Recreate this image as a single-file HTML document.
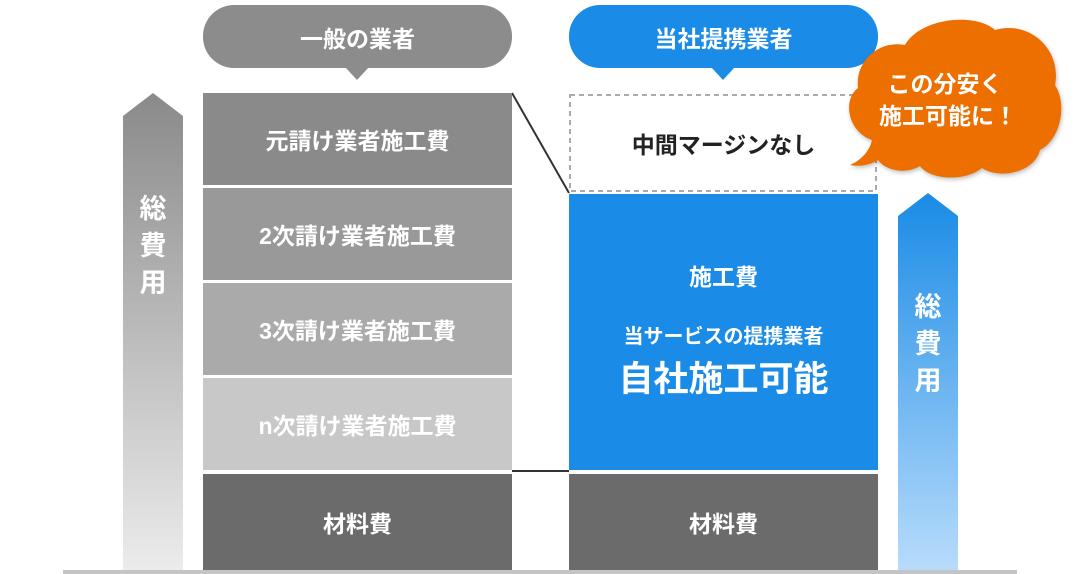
<!DOCTYPE html><html><head><meta charset="utf-8"><style>
body{margin:0;width:1080px;height:574px;background:#fff;position:relative;overflow:hidden;font-family:"Liberation Sans","Noto Sans CJK JP",sans-serif;font-weight:bold}
.b{position:absolute;display:flex;align-items:center;justify-content:center;color:#fff;font-size:23px}
.v{position:absolute;color:#fff;font-size:27px;width:60px;text-align:center;line-height:37px}
</style></head><body>
<svg width="1080" height="574" style="position:absolute;left:0;top:0">
<defs>
<linearGradient id="g1" x1="0" y1="0" x2="0" y2="1"><stop offset="0" stop-color="#8a8a8a"/><stop offset="1" stop-color="#ececec"/></linearGradient>
<linearGradient id="g2" x1="0" y1="0" x2="0" y2="1"><stop offset="0" stop-color="#1a8be6"/><stop offset="1" stop-color="#b8dcfb"/></linearGradient>
</defs>
<polygon points="123,116 153,93 183,116 183,572 123,572" fill="url(#g1)"/>
<polygon points="898,216 928,193 958,216 958,572 898,572" fill="url(#g2)"/>
<rect x="203" y="5" width="309" height="63" rx="31" fill="#8c8c8c"/>
<polygon points="345,67 369,67 357,80" fill="#8c8c8c"/>
<rect x="569" y="5" width="309" height="63" rx="31" fill="#1a8be6"/>
<polygon points="711,67 735,67 723,80" fill="#1a8be6"/>
<rect x="570" y="95" width="306" height="96" fill="none" stroke="#aaa" stroke-width="2" stroke-dasharray="5,4"/>
<line x1="512" y1="93" x2="569" y2="193" stroke="#333" stroke-width="2"/>
<line x1="512" y1="471" x2="569" y2="471" stroke="#333" stroke-width="2"/>
<rect x="63" y="570" width="954" height="4" fill="#c4c4c4"/>
<path d="M850,165 C862,160 870,150 872,140 C848,132 842,100 858,88 C855,60 880,40 905,45 C920,18 975,12 995,30 C1030,20 1062,50 1055,85 C1068,105 1060,140 1040,150 C1035,172 1000,180 982,168 C965,182 930,180 920,166 C905,175 885,170 878,160 C870,165 860,167 850,165 Z" fill="#ec6f00" filter="drop-shadow(1px 2px 2px rgba(0,0,0,.25))"/>
<text x="945" y="92" fill="#fff" font-size="23" text-anchor="middle" font-weight="bold" font-family="Liberation Sans,Noto Sans CJK JP,sans-serif">この分安く</text>
<text x="948" y="124" fill="#fff" font-size="23" text-anchor="middle" font-weight="bold" font-family="Liberation Sans,Noto Sans CJK JP,sans-serif">施工可能に！</text>
</svg>
<div class="b" style="left:203px;top:5px;width:309px;height:63px">一般の業者</div>
<div class="b" style="left:569px;top:5px;width:309px;height:63px">当社提携業者</div>
<div class="v" style="left:123px;top:191px">総<br>費<br>用</div>
<div class="v" style="left:898px;top:289px">総<br>費<br>用</div>
<div class="b" style="left:203px;top:93px;width:309px;height:92px;background:#8a8a8a">元請け業者施工費</div>
<div class="b" style="left:203px;top:188px;width:309px;height:92px;background:#999">2次請け業者施工費</div>
<div class="b" style="left:203px;top:283px;width:309px;height:92px;background:#aaa">3次請け業者施工費</div>
<div class="b" style="left:203px;top:378px;width:309px;height:92px;background:#c8c8c8">n次請け業者施工費</div>
<div class="b" style="left:203px;top:474px;width:309px;height:96px;background:#6b6b6b">材料費</div>
<div class="b" style="left:569px;top:95px;width:309px;height:96px;color:#222">中間マージンなし</div>
<div style="position:absolute;left:569px;top:194px;width:309px;height:276px;background:#1a8be6;color:#fff;text-align:center">
<div style="margin-top:64px;font-size:23px">施工費</div>
<div style="margin-top:28px;font-size:20px">当サービスの提携業者</div>
<div style="margin-top:2px;font-size:35px">自社施工可能</div></div>
<div class="b" style="left:569px;top:474px;width:309px;height:96px;background:#6b6b6b">材料費</div>
</body></html>
